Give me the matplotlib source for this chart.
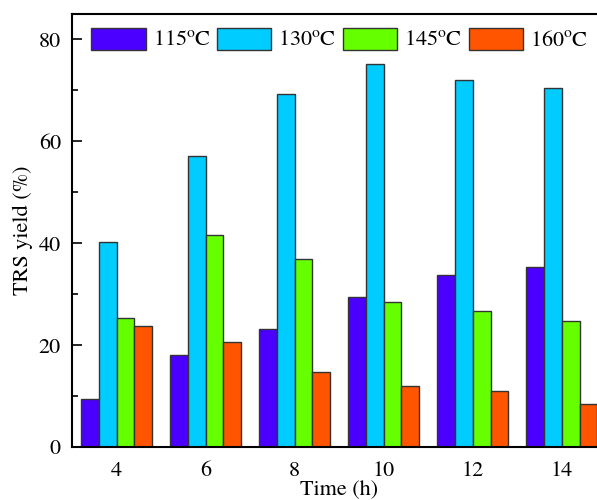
import numpy as np
import matplotlib.pyplot as plt

plt.rcParams['font.family'] = ['TeX Gyre Termes', 'STIXGeneral', 'DejaVu Serif']
plt.rcParams['mathtext.fontset'] = 'custom'
plt.rcParams['mathtext.rm'] = 'TeX Gyre Termes'

# Données
times = [4, 6, 8, 10, 12, 14]
labels = ['115$^{\\rm o}$C', '130$^{\\rm o}$C', '145$^{\\rm o}$C', '160$^{\\rm o}$C']
y115 = [9.4, 18.1, 23.2, 29.5, 33.8, 35.4]
y130 = [40.2, 57.1, 69.3, 75.1, 72.0, 70.5]
y145 = [25.3, 41.7, 36.9, 28.5, 26.6, 24.8]
y160 = [23.7, 20.6, 14.7, 11.9, 10.9, 8.5]
series = [y115, y130, y145, y160]
colors = ['#4B00FF', '#00CCFF', '#66FF00', '#FF5500']

fig = plt.figure(figsize=(5.97, 5.0), dpi=100)
ax = fig.add_axes([0.1206, 0.106, 0.895, 0.866])

width = 0.4
x = np.array(times, dtype=float)
for i, (vals, c, lab) in enumerate(zip(series, colors, labels)):
    ax.bar(x + (i - 1.5) * width, vals, width, color=c, edgecolor='#333333',
           linewidth=1.0, label=lab)

ax.set_xlim(3, 15)
ax.set_ylim(0, 85)
ax.set_xticks(times)
ax.set_yticks([0, 20, 40, 60, 80])
ax.set_yticks([10, 30, 50, 70], minor=True)
ax.tick_params(axis='y', which='major', direction='in', length=7, width=1.2,
               labelsize=16, pad=8)
ax.tick_params(axis='y', which='minor', direction='in', length=4, width=1.2)
ax.tick_params(axis='x', which='major', length=0, labelsize=16, pad=10)
for s in ['left', 'bottom', 'top']:
    ax.spines[s].set_linewidth(1.5)
ax.spines['right'].set_visible(False)

ax.set_xlabel('Time (h)', fontsize=16, labelpad=0)
ax.set_ylabel('TRS yield (%)', fontsize=16, labelpad=4)

ax.legend(loc='upper left', bbox_to_anchor=(0.036, 0.968), ncol=4, frameon=False,
          fontsize=16, handlelength=2.45, handleheight=1.15, handletextpad=0.31,
          columnspacing=0.29, borderpad=0, borderaxespad=0)

plt.savefig('out.png', dpi=100)
